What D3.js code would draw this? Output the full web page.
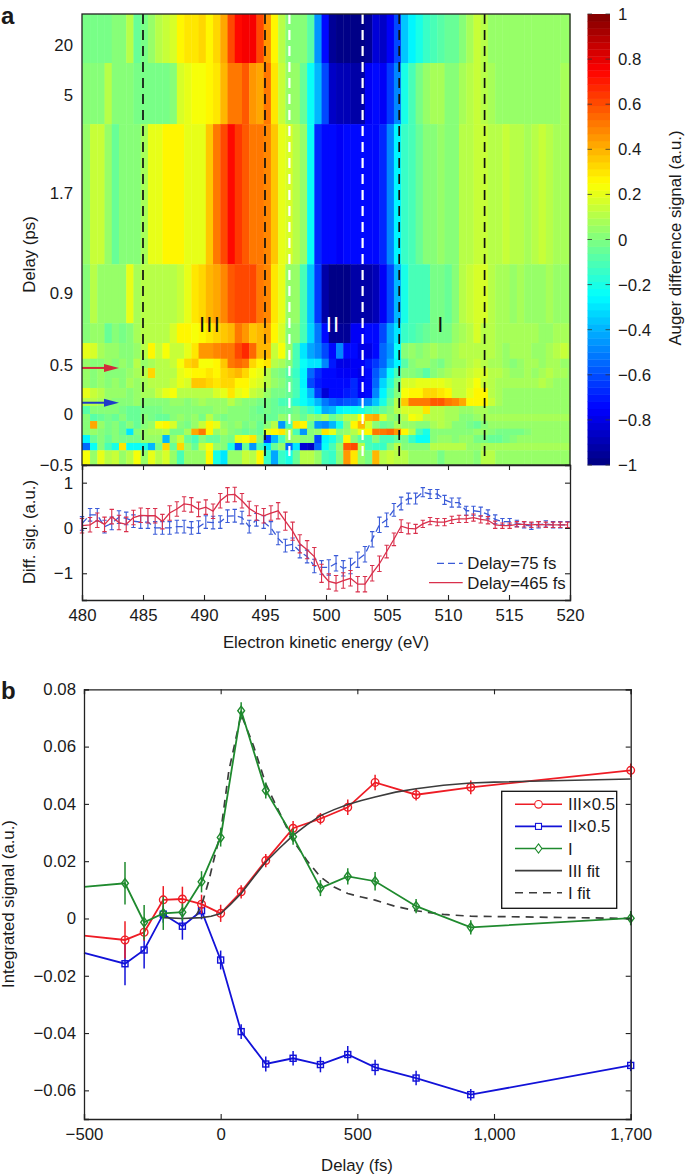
<!DOCTYPE html>
<html>
<head>
<meta charset="utf-8">
<script src="https://cdn.jsdelivr.net/npm/d3@7"></script>
<style>
  body { margin: 0; background: #fff; }
  text { font-family: "Liberation Sans", Arial, sans-serif; fill: #1a1a1a; }
</style>
</head>
<body>
<svg id="chart" width="685" height="1175"></svg>
<script>
//DATA - PANEL A
// column edges in eV, the first column is a bit wider
const energies = d3.range(68).map((i) => (i ? 480.66 + 0.593 * (i - 1) : 480));
// row edges of the heatmap, top to bottom, in ps
const rowEdges = [30, 14.6, 4.02, 1.13, 0.732, 0.622, 0.535, 0.469, 0.367, 0.265, 0.163, 0.082, 0, -0.069, -0.144, -0.206, -0.284, -0.356, -0.5];
const delayTicks = [-0.5, 0, 0.5, 0.9, 1.7, 5, 20];
const delayTickLabels = ['\u22120.5', '0', '0.5', '0.9', '1.7', '5', '20'];
const colorTicks = d3.range(-1, 1.01, 0.2).map((d) => +d.toFixed(1));
const energyTicks = [480, 485, 490, 495, 500, 505, 510, 515, 520];
const blackDashes = [485, 495, 506, 513];
const whiteDashes = [497, 503];
const arrowDelays = [0.47, 0.115];

// difference signal in hundredths, one array per row, top to bottom
const heatRows = [
  [-1,-3,-3,-2,0,0,10,-5,-3,5, 10,14,18,27,31,30,33,27,33,42, 60,72,76,76,60,45,26,12,3,0, 2,-8,-45,-75,-95,-100,-100,-100,-100,-96, -82,-85,-78,-60,-35,-28,-20,-14,-10,-8, -6,-4,2,8,15,10,6,5,5,5, 5,5,5,5,5,5,5,5],
  [3,3,3,10,2,2,0,-3,-3,-2, -1,-1,0,17,20,23,24,28,31,38, 50,50,58,46,42,50,30,14,6,5, -5,-25,-40,-60,-85,-90,-90,-92,-92,-78, -72,-78,-65,-48,-20,-12,-2,6,8,8, 2,0,7,10,14,10,8,4,4,4, 4,4,4,4,4,4,7,7],
  [4,15,15,5,-5,0,2,3,8,20, 20,25,27,25,20,20,20,36,50,62, 72,64,58,50,50,48,36,20,17,12, 5,-25,-68,-75,-75,-78,-75,-75,-75,-75, -72,-68,-50,-28,-15,-10,-5,0,3,5, 0,2,10,12,14,15,12,12,13,10, 10,8,12,14,10,8,8,8],
  [3,12,5,5,6,6,20,8,10,10, 12,10,12,15,20,30,33,38,42,47, 58,62,60,62,52,47,30,20,5,5, -10,-35,-65,-93,-97,-97,-97,-92,-92,-92, -90,-78,-62,-38,-20,-12,-10,-10,-3,-3, -5,2,10,14,18,16,10,8,7,5, 7,6,6,5,7,6,5,5],
  [3,6,4,-5,2,-2,0,8,10,10, 12,12,16,25,28,24,28,30,33,36, 40,52,45,36,40,42,25,18,0,2, -10,-32,-52,-72,-95,-95,-95,-78,-78,-75, -72,-62,-42,-30,-15,-10,-8,-5,-3,-3, -2,4,8,12,16,12,10,8,8,8, 8,8,8,6,6,7,8,8],
  [20,18,8,6,6,3,3,5,12,25, 13,24,14,14,20,31,45,45,48,50, 53,60,68,55,40,40,15,22,5,-10, -30,-42,-50,-62,-72,-50,-72,-75,-80,-80, -72,-55,-45,-25,3,5,3,6,7,5, 6,8,10,10,12,12,10,8,6,8, 7,8,6,5,8,10,14,12],
  [5,3,2,5,3,5,0,10,6,8, 10,10,14,22,34,36,22,24,27,36, 50,56,50,34,28,30,12,7,2,-12, -25,-30,-30,-50,-70,-80,-80,-76,-78,-70, -65,-55,-40,-28,-8,0,5,4,2,-2, 5,8,8,10,15,12,8,8,5,3, 4,7,7,5,7,7,6,5],
  [4,3,5,2,2,2,4,8,12,32, 12,12,12,20,24,26,26,30,28,33, 35,38,32,24,20,12,0,-3,-8,-15, -28,-55,-68,-72,-75,-78,-78,-78,-80,-75, -58,-45,-25,-10,0,3,-2,-8,0,5, 8,10,12,14,16,16,12,10,8,6, 6,7,6,8,10,8,8,6],
  [4,3,4,3,5,3,8,6,8,12, 12,12,14,20,16,36,37,33,30,32, 32,28,25,20,18,10,4,0,-5,-12, -28,-60,-70,-72,-72,-72,-72,-68,-78,-75, -55,-32,-18,-2,17,17,20,20,20,20, 17,15,14,16,22,14,10,8,8,7, 7,8,8,10,8,6,6,6],
  [20,15,10,5,5,5,3,6,8,8, 13,20,22,12,12,12,10,12,18,20, 30,20,24,15,10,5,-2,-2,-5,-10, -25,-40,-65,-82,-75,-72,-70,-68,-78,-75, -50,-28,-12,0,22,25,28,32,34,30, 25,15,15,20,26,26,12,8,6,6, 6,6,6,6,6,6,6,6],
  [10,10,8,4,3,3,2,5,2,0, 3,2,5,5,3,5,8,6,6,5, 12,5,2,0,-2,-2,-5,-10,-12,-18, -22,-30,-38,-52,-58,-60,-58,-58,-52,-50, -35,-20,-5,10,35,50,50,52,58,58, 50,48,42,28,28,28,14,7,5,5, 5,5,5,5,5,5,5,5],
  [-7,0,2,0,0,-2,-5,-5,-2,-2, -1,0,0,0,0,0,2,3,5,6, 2,0,2,-2,-4,-3,-5,-5,-5,-3, -8,-14,-22,-42,-38,-26,-25,-22,-20,-15, -12,-5,0,12,18,18,17,30,12,10, 8,8,6,6,8,7,5,5,5,5, 5,5,5,5,5,5,5,5],
  [0,-8,-6,-2,-6,0,-4,-4,2,-2, -4,-5,3,5,0,5,-2,10,2,-2, 0,2,0,-3,-2,-6,-4,5,2,0, -4,4,2,8,-5,0,10,12,24,40, 42,18,5,3,12,22,20,10,10,12, 7,7,2,2,5,7,7,7,7,7, 7,7,7,7,7,7,7,7],
  [2,42,5,-3,2,-5,0,-4,0,5, 24,25,16,0,-2,5,15,28,20,5, 0,5,-3,0,-4,2,10,-45,-10,30, 25,-5,-45,-48,-40,-20,2,28,40,18, 3,-5,-2,8,5,5,3,2,8,10, 8,3,0,-3,-4,0,5,5,5,5, 5,5,5,5,5,5,5,5],
  [2,5,0,-2,3,-5,-30,2,5,8, 8,10,-2,-2,8,42,50,25,5,8, 0,-2,-6,-2,-5,20,25,30,10,-10, -45,0,5,30,20,0,5,10,20,25, 50,52,55,45,28,10,-10,-20,2,3, 3,2,0,2,5,5,3,-3,-3,-3, -3,0,5,5,5,5,5,5],
  [-28,-5,0,-5,0,-3,-3,-3,5,4, 5,-40,5,14,-5,-10,0,-5,-5,3, -3,20,22,30,0,-65,-40,-10,5,5, 3,0,-60,-28,-20,-8,28,0,-8,-12, 2,-10,-10,-6,-2,-15,-25,-25,2,5, 4,3,5,4,-2,-2,-5,-5,-3,2, 4,5,5,5,5,5,5,5],
  [-55,-25,0,-10,-20,30,-25,-25,-20,-38, -3,33,-5,33,5,-5,15,22,5,0, -20,-58,-5,-45,-10,-30,-5,5,-55,-30, -82,-85,-55,-25,-10,5,58,60,10,-10, -15,-15,3,10,3,2,0,3,10,12, 12,10,10,5,5,7,7,7,7,7, 7,7,7,7,7,7,7,7],
  [24,5,20,10,14,5,10,22,5,20, 10,18,5,-10,5,5,5,25,-20,-30, 5,5,15,12,25,-15,-42,-15,-20,-5, 10,10,5,-12,-15,0,45,30,5,-2, 38,10,14,10,12,5,5,6,5,-3, 5,5,5,5,3,10,12,5,5,5, 5,5,5,5,5,5,6,6],
];

// line cuts under the heatmap
const signal75 = [0.1,0.29,0.29,0.03,0.1,0.24,0.21,0.15,0.13,0.13, 0,0,0,0.03,0.03,0,0.02,0.13,0.12,0.13, 0.26,0.27,0.23,0.03,0.18,0.13,0,-0.23,-0.39,-0.36, -0.52,-0.63,-0.84,-0.87,-0.87,-0.78,-0.89,-0.84,-0.7,-0.58, -0.25,0.07,0.18,0.4,0.54,0.65,0.65,0.79,0.75,0.75, 0.62,0.56,0.56,0.38,0.38,0.36,0.3,0.19,0.14,0.14, 0.1,0.07,0.04,0.07,0.09,0.07,0.07,0.07];
const signal465 = [0.05,0.07,0.17,0.08,0.25,0.12,0.08,0.23,0.28,0.27, 0.27,0.14,0.33,0.42,0.53,0.51,0.41,0.46,0.37,0.6, 0.73,0.74,0.6,0.43,0.33,0.27,0.33,0.38,0.15,-0.07, -0.35,-0.48,-0.63,-1,-1.18,-1.22,-1.16,-1.11,-1.24,-1.24, -1,-0.79,-0.52,-0.25,0.04,-0.01,-0.02,0.09,0.15,0.13, 0.13,0.18,0.2,0.2,0.23,0.19,0.17,0.07,0.05,0.05, 0.08,0.08,0.07,0.08,0.07,0.07,0.07,0.07];
const error75 = [0.15,0.14,0.14,0.14,0.14,0.14,0.14,0.14,0.14,0.14, 0.14,0.14,0.14,0.14,0.14,0.14,0.14,0.14,0.14,0.14, 0.14,0.14,0.14,0.14,0.14,0.14,0.14,0.14,0.14,0.14, 0.14,0.14,0.15,0.15,0.17,0.17,0.17,0.17,0.17,0.17, 0.17,0.17,0.15,0.14,0.14,0.12,0.12,0.1,0.1,0.1, 0.1,0.1,0.1,0.1,0.1,0.1,0.1,0.1,0.07,0.07, 0.07,0.07,0.07,0.07,0.07,0.07,0.07,0.07];
const error465 = [0.16,0.16,0.16,0.16,0.16,0.16,0.16,0.16,0.16,0.16, 0.16,0.16,0.16,0.16,0.16,0.16,0.16,0.16,0.16,0.16, 0.16,0.16,0.16,0.16,0.16,0.16,0.16,0.18,0.2,0.2, 0.2,0.2,0.2,0.2,0.17,0.17,0.17,0.17,0.17,0.17, 0.17,0.17,0.14,0.14,0.14,0.12,0.1,0.08,0.08,0.08, 0.08,0.08,0.08,0.08,0.08,0.08,0.08,0.08,0.06,0.06, 0.06,0.06,0.06,0.06,0.06,0.06,0.06,0.06];

//DATA - PANEL B
// first delay only carries the line in from the axis, it has no marker
const delays = [-500, -350, -280, -210, -140, -70, 0, 75, 165, 265, 365, 465, 565, 715, 915, 1700];
const seriesIII = [-0.006, -0.0075, -0.0048, 0.0065, 0.0068, 0.005, 0.0018, 0.0093, 0.0202, 0.0315, 0.0348, 0.0388, 0.0475, 0.0432, 0.0458, 0.0517];
const errorIII = [0, 0.0065, 0.003, 0.0048, 0.0043, 0.0033, 0.003, 0.0023, 0.0023, 0.0025, 0.002, 0.0027, 0.0027, 0.002, 0.0024, 0.0024];
const seriesII = [-0.012, -0.0158, -0.011, 0.0015, -0.0027, 0.0027, -0.0145, -0.0395, -0.0508, -0.0488, -0.051, -0.0475, -0.052, -0.0557, -0.0615, -0.0513];
const errorII = [0, 0.0075, 0.0065, 0.003, 0.0047, 0.003, 0.0033, 0.0026, 0.0026, 0.0025, 0.0027, 0.003, 0.0027, 0.0025, 0.002, 0.002];
const seriesI = [0.011, 0.0123, -0.0013, 0.0018, 0.0022, 0.0128, 0.0283, 0.0725, 0.0447, 0.0285, 0.0106, 0.0147, 0.013, 0.0043, -0.0031, 0.0001];
const errorI = [0, 0.0074, 0.006, 0.0058, 0.003, 0.0037, 0.0032, 0.003, 0.0028, 0.0028, 0.0028, 0.0028, 0.0032, 0.0025, 0.0025, 0.0025];
const fitDelaysIII = [-210, -140, -70, -35, 0, 35, 75, 120, 165, 215, 265, 315, 365, 415, 465, 515, 565, 640, 715, 815, 915, 1000, 1700];
const fitIII = [0.0003, 0, 0.0003, 0.0008, 0.0017, 0.0048, 0.0087, 0.0143, 0.0197, 0.0245, 0.029, 0.0327, 0.0359, 0.038, 0.0398, 0.0412, 0.0424, 0.0441, 0.0453, 0.0465, 0.0473, 0.0476, 0.0487];
const fitDelaysI = [-90, -70, -43, -27, 0, 30, 75, 120, 165, 215, 265, 315, 365, 415, 465, 515, 565, 640, 715, 815, 915, 1700];
const fitI = [0.001, 0.0045, 0.0133, 0.0197, 0.03, 0.0516, 0.0713, 0.0603, 0.047, 0.037, 0.0272, 0.0203, 0.0145, 0.011, 0.0087, 0.0075, 0.0064, 0.0042, 0.0027, 0.0014, 0.0008, 0];
const delayAxisTicks = [-500, 0, 500, 1000, 1700];
const delayAxisLabels = ['\u2212500', '0', '500', '1,000', '1,700'];
const signalTicks = [-0.06, -0.04, -0.02, 0, 0.02, 0.04, 0.06, 0.08];

const FONT = 16.8;
const AXIS = '#222';
const RED_A = '#d9304c';
const BLUE_A = '#3a5bd8';
const RED_B = '#ee1c25';
const BLUE_B = '#1212d8';
const GREEN_B = '#1f8a2e';
const FIT = '#3c3c3c';
const minus = (s) => String(s).replace('-', '\u2212');

const svg = d3.select('#chart');

//JET COLORS, 64 STEPS LIKE THE COLORBAR
const jet = d3
  .scaleLinear()
  .domain([-1, -0.75, -0.25, 0.25, 0.75, 1])
  .range(['#00007f', '#0000ff', '#00ffff', '#ffff00', '#ff0000', '#7f0000'])
  .clamp(true);
const colorSteps = d3.range(64).map((i) => -1 + (2 * (i + 0.5)) / 64);
const stepColor = d3.scaleQuantize().domain([-1, 1]).range(colorSteps.map((d) => jet(d)));

//SCALES PANEL A
const xEnergy = d3.scaleLinear().domain([480, 520]).range([82, 570]);
const yDelay = d3
  .scaleLinear()
  .domain([-0.5, 0, 0.5, 0.9, 1.7, 5, 20, 30])
  .range([465, 414, 365, 293, 193, 95, 45, 14]);
const ySignal = d3.scaleLinear().domain([-1.59, 1.39]).range([600, 465]);
const yColor = d3.scaleLinear().domain([-1, 1]).range([465, 14]);

//HEATMAP
const heat = svg.append('g');
heatRows.forEach((row, r) => {
  heat
    .selectAll(null)
    .data(row)
    .enter()
    .append('rect')
    .attr('x', (d, i) => xEnergy(energies[i]))
    .attr('y', yDelay(rowEdges[r]))
    .attr('width', (d, i) => xEnergy(i < 67 ? energies[i + 1] : 520) - xEnergy(energies[i]) + 0.4)
    .attr('height', yDelay(rowEdges[r + 1]) - yDelay(rowEdges[r]) + 0.4)
    .attr('fill', (d) => stepColor(d / 100));
});

//DASHED GUIDES
const guideTop = yDelay(30);
const guideBottom = 458;
svg
  .selectAll('.guide-black')
  .data(blackDashes)
  .enter()
  .append('line')
  .attr('x1', (d) => xEnergy(d))
  .attr('x2', (d) => xEnergy(d))
  .attr('y1', guideTop)
  .attr('y2', guideBottom)
  .attr('stroke', '#111')
  .attr('stroke-width', 1.7)
  .attr('stroke-dasharray', '10,6');
svg
  .selectAll('.guide-white')
  .data(whiteDashes)
  .enter()
  .append('line')
  .attr('x1', (d) => xEnergy(d))
  .attr('x2', (d) => xEnergy(d))
  .attr('y1', guideTop)
  .attr('y2', guideBottom)
  .attr('stroke', '#fff')
  .attr('stroke-width', 2.2)
  .attr('stroke-dasharray', '10,6');

//BAND LABELS
[['III', 210, '#111'], ['II', 333, '#fff'], ['I', 441, '#111']].forEach(([label, x, color]) => {
  svg
    .append('text')
    .attr('x', x)
    .attr('y', 332)
    .attr('text-anchor', 'middle')
    .attr('font-size', 22)
    .style('letter-spacing', '1.2px')
    .style('fill', color)
    .text(label);
});

//ARROWS
arrowDelays.forEach((delay, i) => {
  const y = yDelay(delay);
  const color = i === 0 ? '#d22b3a' : '#1f3bc8';
  svg
    .append('line')
    .attr('x1', 82)
    .attr('x2', 108)
    .attr('y1', y)
    .attr('y2', y)
    .attr('stroke', color)
    .attr('stroke-width', 2);
  svg
    .append('path')
    .attr('d', d3.line()([[104, y - 4], [119, y], [104, y + 4]]))
    .attr('fill', color);
});

//HEATMAP FRAME AND LABELS
svg
  .append('rect')
  .attr('x', 82)
  .attr('y', 14)
  .attr('width', 488)
  .attr('height', 451)
  .attr('fill', 'none')
  .attr('stroke', AXIS)
  .attr('stroke-width', 1.3);
svg
  .selectAll('.delay-label')
  .data(delayTicks)
  .enter()
  .append('text')
  .attr('x', 73)
  .attr('y', (d) => yDelay(d) + 6)
  .attr('text-anchor', 'end')
  .attr('font-size', FONT)
  .text((d, i) => delayTickLabels[i]);

//COLORBAR
svg
  .selectAll('.color-step')
  .data(colorSteps)
  .enter()
  .append('rect')
  .attr('x', 587.5)
  .attr('width', 22.5)
  .attr('y', (d) => yColor(d + 1 / 64))
  .attr('height', yColor(-1) - yColor(-1 + 2 / 64) + 0.4)
  .attr('fill', (d) => jet(d));
const colorAxis = svg.append('g');
colorTicks.forEach((d) => {
  const y = yColor(d);
  colorAxis
    .append('line').attr('x1', 587.5).attr('x2', 592).attr('y1', y).attr('y2', y)
    .attr('stroke', '#333').attr('stroke-width', 0.8);
  colorAxis
    .append('line').attr('x1', 605.5).attr('x2', 610).attr('y1', y).attr('y2', y)
    .attr('stroke', '#333').attr('stroke-width', 0.8);
  colorAxis
    .append('text')
    .attr('x', 618)
    .attr('y', y + 6)
    .attr('font-size', FONT)
    .text(minus(d));
});
svg
  .append('text')
  .attr('transform', 'translate(681,238) rotate(-90)')
  .attr('text-anchor', 'middle')
  .attr('font-size', FONT)
  .text('Auger difference signal (a.u.)');

//PANEL A LINE CUTS
const cuts = [
  { values: signal75, errors: error75, color: BLUE_A, dash: '7,4' },
  { values: signal465, errors: error465, color: RED_A, dash: null },
];
const lineCut = d3
  .line()
  .x((d, i) => xEnergy(energies[i]))
  .y((d) => ySignal(d));
cuts.forEach((cut) => {
  const g = svg.append('g').attr('stroke', cut.color).attr('fill', 'none');
  g.append('path')
    .attr('d', lineCut(cut.values))
    .attr('stroke-width', 1.3)
    .attr('stroke-dasharray', cut.dash);
  g.selectAll('.bar')
    .data(cut.values)
    .enter()
    .append('path')
    .attr('stroke-width', 1.1)
    .attr('d', (d, i) => {
      const x = xEnergy(energies[i]);
      const top = ySignal(d + cut.errors[i]);
      const bottom = ySignal(d - cut.errors[i]);
      return `M${x - 2.2},${top}H${x + 2.2}M${x},${top}V${bottom}M${x - 2.2},${bottom}H${x + 2.2}`;
    });
});

//PANEL A AXES
const energyBottom = d3.axisBottom(xEnergy).tickValues(energyTicks).tickFormat(d3.format('d')).tickSize(-5).tickPadding(9);
const energyTop = d3.axisTop(xEnergy).tickValues(energyTicks).tickFormat('').tickSize(-5);
const signalLeft = d3.axisLeft(ySignal).tickValues([-1, 0, 1]).tickFormat(minus).tickSize(-5).tickPadding(9);
const signalRight = d3.axisRight(ySignal).tickValues([-1, 0, 1]).tickFormat('').tickSize(-5);
function styleAxis(sel) {
  sel.selectAll('path').attr('stroke', AXIS).attr('stroke-width', 1.3);
  sel.selectAll('line').attr('stroke', AXIS).attr('stroke-width', 1.1);
  sel.selectAll('text').attr('font-size', FONT);
  sel.attr('font-family', null);
}
svg.append('g').attr('transform', 'translate(0,600)').call(energyBottom).call(styleAxis);
svg.append('g').attr('transform', 'translate(0,465)').call(energyTop).call(styleAxis);
svg.append('g').attr('transform', 'translate(82,0)').call(signalLeft).call(styleAxis);
svg.append('g').attr('transform', 'translate(570,0)').call(signalRight).call(styleAxis);

//PANEL A LEGEND
[['Delay=75 fs', BLUE_A, '7,4', 437, 569.3], ['Delay=465 fs', RED_A, null, 429, 588.7]].forEach(([label, color, dash, x0, base]) => {
  svg
    .append('line')
    .attr('x1', x0)
    .attr('x2', 462.7)
    .attr('y1', base - 6)
    .attr('y2', base - 6)
    .attr('stroke', color)
    .attr('stroke-width', 1.3)
    .attr('stroke-dasharray', dash);
  svg
    .append('text')
    .attr('x', 467.3)
    .attr('y', base)
    .attr('font-size', FONT)
    .text(label);
});

//AXIS TITLES PANEL A
svg
  .append('text')
  .attr('x', 326)
  .attr('y', 648)
  .attr('text-anchor', 'middle')
  .attr('font-size', FONT)
  .text('Electron kinetic energy (eV)');
svg
  .append('text')
  .attr('transform', 'translate(35,254.5) rotate(-90)')
  .attr('text-anchor', 'middle')
  .attr('font-size', FONT)
  .text('Delay (ps)');
svg
  .append('text')
  .attr('transform', 'translate(35,532) rotate(-90)')
  .attr('text-anchor', 'middle')
  .attr('font-size', FONT)
  .text('Diff. sig. (a.u.)');

//SCALES PANEL B
const xDelay = d3.scaleLinear().domain([-500, 1000, 1700]).range([84, 494, 630.7]);
const yInt = d3.scaleLinear().domain([-0.07, 0.08]).range([1119, 689.3]);

function lineFrom(xs) {
  return d3
    .line()
    .x((d, i) => xDelay(xs[i]))
    .y((d) => yInt(d));
}

const symbols = {
  circle: (g) => g.append('circle').attr('r', 3.8),
  square: (g) => g.append('rect').attr('x', -3).attr('y', -3).attr('width', 6).attr('height', 6),
  diamond: (g) => g.append('path').attr('d', 'M0,-4.6L3.4,0L0,4.6L-3.4,0Z'),
};

function drawSeries(values, errors, color, symbol) {
  const g = svg.append('g').attr('stroke', color).attr('fill', 'none');
  g.append('path').attr('d', lineFrom(delays)(values)).attr('stroke-width', 1.8);
  values.forEach((d, i) => {
    if (i === 0) return;
    g.append('line')
      .attr('x1', xDelay(delays[i]))
      .attr('x2', xDelay(delays[i]))
      .attr('y1', yInt(d + errors[i]))
      .attr('y2', yInt(d - errors[i]))
      .attr('stroke-width', 1.5);
    const mark = g
      .append('g')
      .attr('transform', `translate(${xDelay(delays[i])},${yInt(d)})`)
      .attr('stroke-width', 1.4);
    symbols[symbol](mark);
  });
}

drawSeries(seriesII, errorII, BLUE_B, 'square');
drawSeries(seriesIII, errorIII, RED_B, 'circle');
svg
  .append('path')
  .attr('d', lineFrom(fitDelaysIII)(fitIII))
  .attr('fill', 'none')
  .attr('stroke', FIT)
  .attr('stroke-width', 1.6);
svg
  .append('path')
  .attr('d', lineFrom(fitDelaysI)(fitI))
  .attr('fill', 'none')
  .attr('stroke', FIT)
  .attr('stroke-width', 1.7)
  .attr('stroke-dasharray', '8,6');
drawSeries(seriesI, errorI, GREEN_B, 'diamond');

//PANEL B AXES
const delayBottom = d3
  .axisBottom(xDelay)
  .tickValues(delayAxisTicks)
  .tickFormat((d, i) => delayAxisLabels[i])
  .tickSize(-5)
  .tickPadding(9);
const delayTop = d3.axisTop(xDelay).tickValues(delayAxisTicks).tickFormat('').tickSize(-5);
const intLeft = d3
  .axisLeft(yInt)
  .tickValues(signalTicks)
  .tickFormat((d) => minus(d))
  .tickSize(-5)
  .tickPadding(8);
const intRight = d3.axisRight(yInt).tickValues(signalTicks).tickFormat('').tickSize(-5);
svg.append('g').attr('transform', 'translate(0,1119)').call(delayBottom).call(styleAxis);
svg.append('g').attr('transform', 'translate(0,689.3)').call(delayTop).call(styleAxis);
svg.append('g').attr('transform', 'translate(84,0)').call(intLeft).call(styleAxis);
svg.append('g').attr('transform', 'translate(630.7,0)').call(intRight).call(styleAxis);

//PANEL B LEGEND
svg
  .append('rect')
  .attr('x', 501.7)
  .attr('y', 791.3)
  .attr('width', 115)
  .attr('height', 117)
  .attr('fill', '#fff')
  .attr('stroke', '#111')
  .attr('stroke-width', 1.3);
const legendRows = [
  { label: 'III\u00d70.5', color: RED_B, symbol: 'circle' },
  { label: 'II\u00d70.5', color: BLUE_B, symbol: 'square' },
  { label: 'I', color: GREEN_B, symbol: 'diamond' },
  { label: 'III fit', color: FIT },
  { label: 'I fit', color: FIT, dash: '8,6' },
];
legendRows.forEach((row, i) => {
  const y = 804.3 + i * 22.1;
  svg
    .append('line')
    .attr('x1', 515)
    .attr('x2', 562)
    .attr('y1', y)
    .attr('y2', y)
    .attr('stroke', row.color)
    .attr('stroke-width', 1.6)
    .attr('stroke-dasharray', row.dash || null);
  if (row.symbol) {
    const mark = svg
      .append('g')
      .attr('transform', `translate(538.5,${y})`)
      .attr('fill', '#fff')
      .attr('stroke', row.color)
      .attr('stroke-width', 1.1);
    symbols[row.symbol](mark);
  }
  svg
    .append('text')
    .attr('x', 568)
    .attr('y', y + 6)
    .attr('font-size', FONT)
    .text(row.label);
});

//AXIS TITLES PANEL B
svg
  .append('text')
  .attr('x', 357)
  .attr('y', 1171)
  .attr('text-anchor', 'middle')
  .attr('font-size', FONT)
  .text('Delay (fs)');
svg
  .append('text')
  .attr('transform', 'translate(14,904) rotate(-90)')
  .attr('text-anchor', 'middle')
  .attr('font-size', FONT)
  .text('Integrated signal (a.u.)');

//PANEL LETTERS
svg.append('text').attr('x', 1).attr('y', 24).attr('font-size', 24).attr('font-weight', 'bold').text('a');
svg.append('text').attr('x', 1).attr('y', 699).attr('font-size', 24).attr('font-weight', 'bold').text('b');
</script>
</body>
</html>
